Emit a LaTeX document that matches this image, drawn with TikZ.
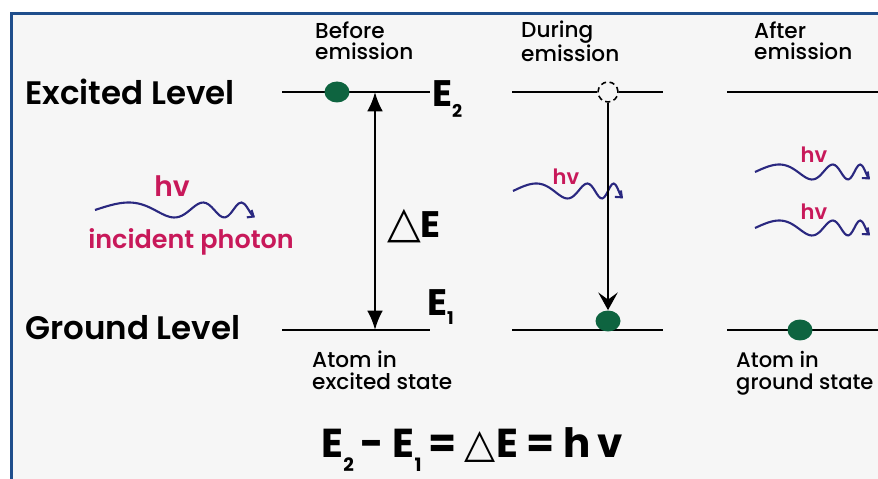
\documentclass[tikz,border=0pt]{standalone}
\usepackage{fontspec}
\setmainfont{Poppins}
\newfontfamily\popmed{Poppins Medium}
\newfontfamily\popsemi{Poppins SemiBold}
\newfontfamily\symfont{DejaVu Sans}
\usetikzlibrary{arrows.meta, shapes.geometric}
\definecolor{frameink}{RGB}{31, 78, 140}
\definecolor{paperink}{RGB}{246, 246, 246}
\definecolor{atomink}{RGB}{14, 100, 64}
\definecolor{waveink}{RGB}{42, 40, 128}
\definecolor{hvink}{RGB}{200, 25, 90}
\newcommand{\lowidx}[3]{\raisebox{#2}{\fontsize{#3}{#3}\selectfont #1}}
\newcommand{\photonwave}[3]{%
  \draw[wave] plot[domain=0:0.93, samples=60, smooth]
    ({#1+#3*\x/0.93}, {#2-7.5*sin(360*(1.2*\x+2*\x*\x*\x))});}

\begin{document}
\begin{tikzpicture}[x=0.02cm, y=-0.02cm,
  level/.style={line width=1.1pt},
  atom/.style={ellipse, fill=atomink, minimum width=0.5cm, minimum height=0.42cm, inner sep=0pt},
  ghost/.style={circle, draw, densely dashed, line width=0.9pt, minimum size=0.4cm, inner sep=0pt},
  wave/.style={waveink, line width=1.2pt, -{Straight Barb[length=3pt, width=5pt]}},
  lvltext/.style={font=\fontsize{18.5}{20}\selectfont\popsemi},
  stagetext/.style={align=left, font=\fontsize{12.3}{12.5}\selectfont\popmed},
  toptext/.style={stagetext, font=\fontsize{12.3}{11.8}\selectfont\popmed, anchor=west},
  hvtext/.style={hvink, font=\fontsize{12}{13}\selectfont\popsemi},
  etext/.style={font=\fontsize{21}{22}\selectfont\bfseries}]
  \useasboundingbox (0,0) rectangle (878,479);
  \fill[paperink] (10,12) rectangle (878,479);
  \draw[frameink, line width=1.8pt] (11.5,479) -- (11.5,13.5) -- (878,13.5);

  \node[lvltext, anchor=west] (exc) at (19,92) {Excited Level};
  \node[lvltext, anchor=west] (gnd) at (19,328) {Ground Level};
  \node[toptext] (before) at (309,41) {Before\\emission};
  \node[toptext] (during) at (515,41) {During\\emission};
  \node[toptext] (after) at (748,41) {After\\emission};
  \node[stagetext, anchor=north west] (exstate) at (306,345) {Atom in\\excited state};
  \node[stagetext, font=\fontsize{12}{12.5}\selectfont\popmed, anchor=north west] (gdstate) at (730,345) {Atom in\\ground state};

  \draw[level] (282,92) -- (430,92);
  \draw[level] (282,330) -- (430,330);
  \draw[level] (512,330) -- (663,330);
  \draw[level] (727,92) -- (878,92);
  \draw[level] (727,330) -- (878,330);
  \node[ghost] (ghostB) at (608,92) {};
  \draw[level] (512,92) -- (ghostB.west);
  \draw[level] (ghostB.east) -- (663,92);
  \node[atom] (atomA) at (337,92) {};
  \node[atom] (atomB) at (608,321) {};
  \node[atom] (atomC) at (800,330) {};

  \node[etext, anchor=west] (etop) at (426,99) {E\lowidx{2}{-0.3em}{10}};
  \node[etext, anchor=west] (ebot) at (421,307) {E\lowidx{1}{-0.25em}{10}};
  \node[etext, anchor=west] (delta) at (381,226) {{\symfont\fontsize{25}{25}\selectfont\mdseries △}E};

  \coordinate (topA) at (375,92);
  \coordinate (botA) at (375,330);
  \draw[line width=1.4pt, {Latex[length=11pt, width=9pt]}-{Latex[length=11pt, width=9pt]}] (topA) -- (botA);

  \photonwave{95}{210}{160}
  \node[hvtext, font=\fontsize{16}{17}\selectfont\popsemi] (hvA) at (172,186) {hv};
  \node[hvtext, font=\fontsize{14.5}{15}\selectfont\popsemi] (incident) at (191,242) {incident photon};
  \photonwave{513}{191}{110}
  \node[hvtext] (hvB) at (566,177) {hv};
  \photonwave{755}{172}{115}
  \node[hvtext] (hvC) at (814,155) {hv};
  \photonwave{755}{228}{115}
  \node[hvtext] (hvD) at (814,212) {hv};

  \draw[line width=1.4pt, -{Stealth[length=10pt, width=11pt, inset=4pt]}] (ghostB.south) -- (atomB.north);

  \node[font=\fontsize{23}{24}\selectfont\bfseries, anchor=base] (law) at (472,457)
    {E\lowidx{2}{-8pt}{10.5}\,- E\lowidx{1}{-8pt}{10.5}\,= {\symfont\mdseries△}E = h\,v};
\end{tikzpicture}
\end{document}
